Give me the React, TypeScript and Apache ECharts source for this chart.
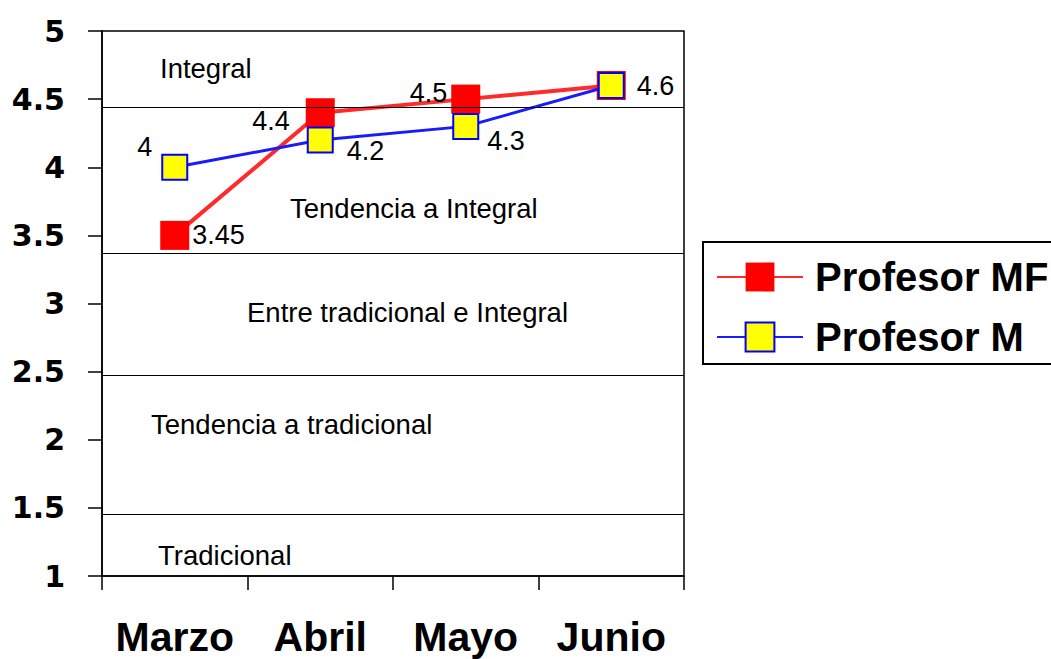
import React, { useEffect, useRef } from "react";
import * as echarts from "echarts";

const months = ["Marzo", "Abril", "Mayo", "Junio"];
const profMF = [3.5, 4.4, 4.5, 4.6];
const profMFLabels = ["3.45", "4.4", "4.5", "4.6"];
const profM = [4, 4.2, 4.3, 4.6];
const profMLabels = ["4", "4.2", "4.3", ""];
const thresholds = [4.44, 3.37, 2.47, 1.45];
const zoneNames = ["Integral", "Tendencia a Integral", "Entre tradicional e Integral", "Tendencia a tradicional", "Tradicional"];

const FONT = "'Liberation Sans', Arial, Helvetica, sans-serif";

export default function App() {
  const ref = useRef<HTMLDivElement>(null);
  useEffect(() => {
    if (!ref.current) return;
    const chart = echarts.init(ref.current, null, { renderer: "svg" });

    const mfLabelPos = [
      { position: "right", distance: 3, offset: [0, 0] },
      { position: "left", distance: 16, offset: [0, 8] },
      { position: "left", distance: 4, offset: [0, -6] },
      { position: "right", distance: 11, offset: [0, 0] },
    ];
    const mLabelPos = [
      { position: "left", distance: 9, offset: [0, -20] },
      { position: "right", distance: 13, offset: [0, 11] },
      { position: "right", distance: 8, offset: [0, 15] },
      { position: "right", distance: 8, offset: [0, 0] },
    ];
    const zonePos = [
      [160, 68],
      [290, 208],
      [247, 312],
      [151, 424],
      [158, 555],
    ];

    const labelStyle = { color: "#000", fontSize: 27, fontFamily: FONT };

    chart.setOption({
      animation: false,
      backgroundColor: "#fff",
      grid: {
        left: 102,
        right: 367,
        top: 31,
        bottom: 83,
        show: true,
        borderColor: "#000",
        borderWidth: 1.5,
        backgroundColor: "transparent",
      },
      xAxis: {
        type: "category",
        data: months,
        boundaryGap: true,
        axisLine: { lineStyle: { color: "#000", width: 1.5 } },
        axisTick: { show: true, interval: 0, length: 14, lineStyle: { color: "#000", width: 1.5 } },
        axisLabel: {
          interval: 0,
          color: "#000",
          fontSize: 41,
          fontWeight: "bold",
          fontFamily: FONT,
          margin: 40,
        },
        splitLine: { show: false },
      },
      yAxis: {
        type: "value",
        min: 1,
        max: 5,
        interval: 0.5,
        axisLine: { show: true, lineStyle: { color: "#000", width: 1.5 } },
        axisTick: { show: true, length: 14, lineStyle: { color: "#000", width: 1.5 } },
        axisLabel: {
          color: "#000",
          fontSize: 30,
          fontWeight: "bold",
          fontFamily: "'DejaVu Sans', sans-serif",
          margin: 37,
        },
        splitLine: { show: false },
      },
      legend: {
        left: 703,
        top: 242,
        orient: "vertical",
        backgroundColor: "#fff",
        borderColor: "#000",
        borderWidth: 2,
        borderRadius: 0,
        padding: [15, 30, 7, 13],
        itemWidth: 86,
        itemHeight: 36,
        itemGap: 20,
        textStyle: {
          color: "#000",
          fontSize: 40,
          fontWeight: "bold",
          fontFamily: FONT,
          padding: [0, 0, 0, 7],
        },
        data: ["Profesor MF", "Profesor M"],
      },
      graphic: zoneNames.map((t, i) => ({
        type: "text",
        x: zonePos[i][0],
        y: zonePos[i][1],
        z: 10,
        style: {
          text: t,
          fill: "#000",
          fontSize: 27.5,
          fontFamily: FONT,
          align: "left",
          verticalAlign: "middle",
        },
      })),
      series: [
        {
          name: "Profesor MF",
          type: "line",
          symbol: "rect",
          symbolSize: 29,
          z: 3,
          itemStyle: { color: "#ff0000", borderColor: "#ff0000", borderWidth: 0 },
          lineStyle: { color: "#ff2a2a", width: 4 },
          data: profMF.map((v, i) => ({
            value: v,
            label: {
              show: true,
              formatter: profMFLabels[i],
              ...labelStyle,
              ...mfLabelPos[i],
            },
          })),
          markLine: {
            silent: true,
            symbol: "none",
            label: { show: false },
            lineStyle: { color: "#000", width: 1, type: "solid" },
            data: thresholds.map((t) => ({ yAxis: t })),
          },
        },
        {
          name: "Profesor M",
          type: "line",
          symbol: "rect",
          symbolSize: 25,
          z: 4,
          itemStyle: { color: "#ffff00", borderColor: "#0000ff", borderWidth: 2 },
          lineStyle: { color: "#1a1aff", width: 3 },
          data: profM.map((v, i) => ({
            value: v,
            label: {
              show: profMLabels[i] !== "",
              formatter: profMLabels[i],
              ...labelStyle,
              ...mLabelPos[i],
            },
          })),
        },
      ],
    });
    return () => chart.dispose();
  }, []);
  return (
    <div
      ref={ref}
      style={{ position: "fixed", left: 0, top: 0, width: 1051, height: 659 }}
    />
  );
}
